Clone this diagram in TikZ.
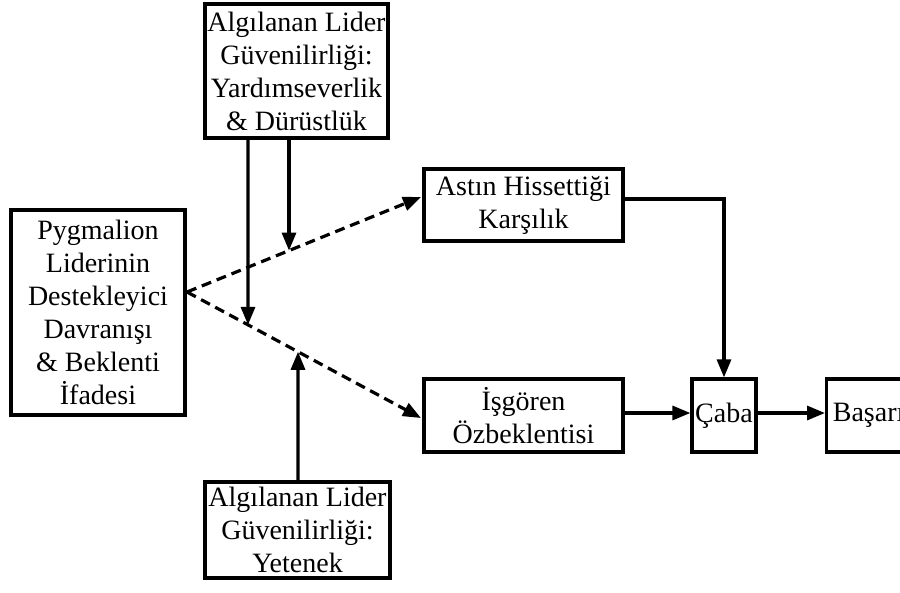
\documentclass[tikz,border=0pt]{standalone}
\usepackage{fontspec}
\setmainfont{Liberation Serif}
\usetikzlibrary{arrows.meta}
\begin{document}
\begin{tikzpicture}[x=1pt,y=-1pt,
  box/.style={draw, line width=3.2pt, align=center, inner sep=0pt,
    font=\fontsize{28}{33}\selectfont},
  arr/.style={line width=3.2pt, -{Triangle[length=18pt,width=14pt]}},
  darr/.style={arr, dash pattern=on 10pt off 6pt}]
\useasboundingbox (0,0) rectangle (900,592);
\clip (0,0) rectangle (900,592);
\fill[white] (0,0) rectangle (900,592);

% boxes
\node[box, minimum width=174pt, minimum height=205pt] (pyg) at (98,312.5)
  {Pygmalion\\Liderinin\\Destekleyici\\Davranışı\\\& Beklenti\\İfadesi};
\node[box, minimum width=183pt, minimum height=134pt] (top) at (296.5,71)
  {Algılanan Lider\\Güvenilirliği:\\Yardımseverlik\\\& Dürüstlük};
\node[box, minimum width=185pt, minimum height=96pt] (bot) at (297.5,530)
  {Algılanan Lider\\Güvenilirliği:\\Yetenek};
\node[box, minimum width=199pt, minimum height=72pt] (ast) at (523.5,205)
  {Astın Hissettiği\\Karşılık};
\node[box, minimum width=199pt, minimum height=73pt] (isg) at (523.5,415.5)
  {İşgören\\Özbeklentisi};
\node[box, minimum width=64pt, minimum height=73pt] (caba) at (724,415.5) {Çaba};
\node[box, minimum width=84pt, minimum height=73pt, anchor=west] (bas) at (825,415.5) {Başarı};

% dashed paths from the leader behaviour
\coordinate (s) at (187,292);
\coordinate (ua) at (421,197);
\coordinate (la) at (421,418);
\draw[darr] (s) -- (ua);
\draw[darr] (s) -- (la);

% moderators
\draw[arr] (top.south -| 248,0) -- (intersection of 248,0--248,600 and s--la);
\draw[arr] (top.south -| 289,0) -- (intersection of 289,0--289,600 and s--ua);
\draw[arr] (bot.north -| 298,0) -- (intersection of 298,0--298,600 and s--la);

% outcomes
\draw[arr] (ast.east |- 0,199) -| (caba.north);
\draw[arr] (isg.east |- 0,413) -- (caba.west |- 0,413);
\draw[arr] (caba.east |- 0,413) -- (bas.west |- 0,413);
\end{tikzpicture}
\end{document}
